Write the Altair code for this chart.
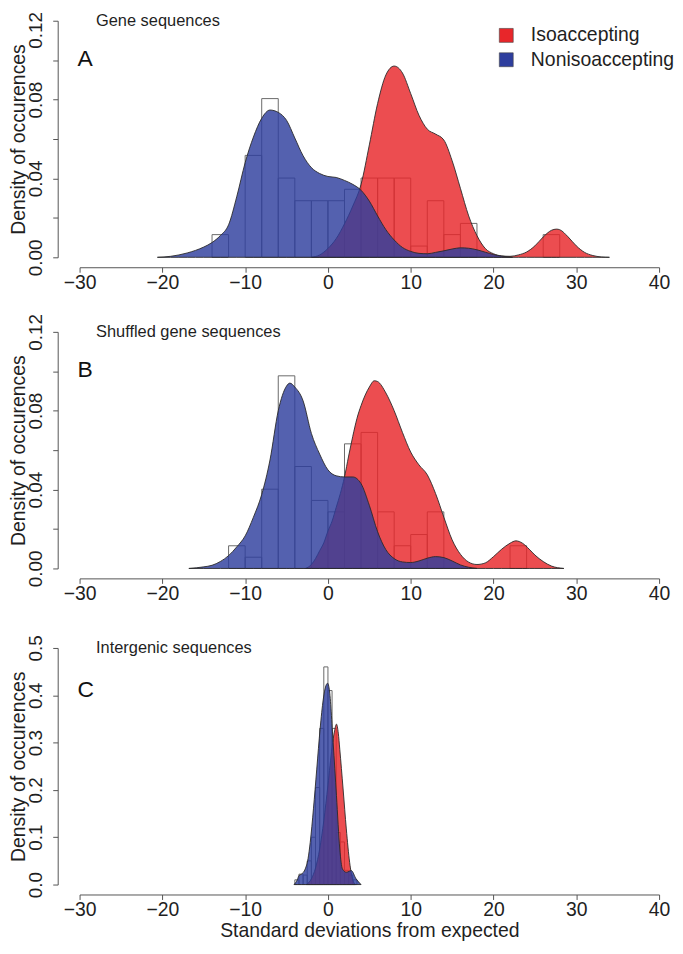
import altair as alt
import pandas as pd

FONT = "Liberation Sans"
GROUPS = ["Isoaccepting", "Nonisoaccepting"]
GROUP_COLORS = ["#E8262A", "#2E3E9E"]

X_TICKS = [-30, -20, -10, 0, 10, 20, 30, 40]
AB_Y_TICKS = [0.0, 0.02, 0.04, 0.06, 0.08, 0.10, 0.12]
C_Y_TICKS = [0.0, 0.1, 0.2, 0.3, 0.4, 0.5]

# ---------------- Panel A : gene sequences ----------------
a_iso_x = [-2, -1, 0, 1, 2, 3, 4, 5, 6, 7, 8, 9, 10, 11, 12, 13, 14, 15, 16, 17, 18, 19,
           20, 21, 22, 23, 24, 25, 26, 27, 27.6, 28, 29, 30, 31, 32, 33, 34]
a_iso_y = [0, 0.0012, 0.0045, 0.0095, 0.017, 0.026, 0.037, 0.057, 0.078, 0.0925, 0.097,
           0.0935, 0.083, 0.072, 0.065, 0.0625, 0.0595, 0.049, 0.035, 0.021, 0.011, 0.0045,
           0.0018, 0.0007, 0.0005, 0.0012, 0.0027, 0.0058, 0.0103, 0.0137, 0.0143, 0.014,
           0.0104, 0.0058, 0.0025, 0.0009, 0.0002, 0]
a_non_x = [-20.6, -19, -18, -17, -16, -15, -14, -13, -12, -11, -10, -9, -8, -7, -6, -5, -4,
           -3, -2, -1, 0, 1, 2, 3, 4, 5, 6, 7, 8, 9, 10, 11, 12, 13, 14, 15, 16, 17, 18, 19,
           20, 21, 22.3]
a_non_y = [0, 0.0005, 0.0012, 0.0022, 0.0035, 0.0052, 0.0075, 0.011, 0.0165, 0.031, 0.048,
           0.061, 0.0705, 0.0747, 0.0735, 0.0695, 0.0605, 0.0515, 0.0455, 0.0425, 0.041,
           0.0405, 0.039, 0.037, 0.034, 0.0285, 0.021, 0.014, 0.0088, 0.005, 0.003, 0.002,
           0.0018, 0.0025, 0.0033, 0.0042, 0.0048, 0.0046, 0.0038, 0.0026, 0.0014, 0.0006, 0]
a_hist_start = [-14, -10, -8, -6, -4, -2, 0, 2, 4, 6, 8, 10, 12, 14, 16, 26]
a_hist_dens = [0.0115, 0.0517, 0.0805, 0.0402, 0.0287, 0.0287, 0.0287, 0.0345, 0.0402,
               0.0402, 0.0402, 0.0057, 0.0287, 0.0115, 0.0172, 0.0115]
a_bin = 2

# ---------------- Panel B : shuffled gene sequences ----------------
b_iso_x = [-2.7, -2, -1.5, -1, -0.5, 0, 0.5, 1, 1.5, 2, 2.5, 3, 3.5, 4, 5, 5.6, 6, 7, 8, 9,
           10, 11, 12, 13, 14, 15, 16, 17, 18, 19, 20, 21, 22, 22.7, 23.5, 24.3, 25, 26, 27,
           28.5]
b_iso_y = [0, 0.002, 0.005, 0.009, 0.013, 0.019, 0.024, 0.031, 0.038, 0.0464, 0.057, 0.067,
           0.076, 0.0826, 0.092, 0.0952, 0.0948, 0.089, 0.08, 0.069, 0.059, 0.0525, 0.0475,
           0.038, 0.026, 0.0145, 0.0072, 0.0032, 0.002, 0.0028, 0.006, 0.0098, 0.0128, 0.014,
           0.0128, 0.0098, 0.0068, 0.0035, 0.0012, 0]
b_non_x = [-16.8, -15, -14, -13, -12, -11, -10, -9, -8, -7, -6, -5, -4.6, -4, -3, -2, -1, 0,
           1, 2, 3, 4, 5, 6, 7, 8, 9, 10, 11, 12, 13, 14, 15, 16, 17, 18]
b_non_y = [0, 0.0008, 0.0016, 0.0035, 0.0065, 0.011, 0.0165, 0.026, 0.0375, 0.055, 0.08,
           0.0925, 0.094, 0.092, 0.085, 0.0685, 0.058, 0.05, 0.047, 0.0464, 0.0464, 0.043,
           0.032, 0.0186, 0.0095, 0.005, 0.0033, 0.003, 0.0038, 0.0052, 0.006, 0.0055,
           0.0038, 0.0018, 0.0006, 0]
b_hist_start = [-12, -10, -8, -6, -4, -2, 0, 2, 4, 6, 8, 10, 12, 22]
b_hist_dens = [0.0115, 0.0057, 0.0402, 0.0977, 0.0517, 0.0345, 0.0287, 0.0632, 0.069,
               0.0287, 0.0115, 0.0172, 0.0287, 0.0115]
b_bin = 2

# ---------------- Panel C : intergenic sequences ----------------
c_iso_x = [-2.6, -2, -1.5, -1, -0.5, 0, 0.5, 0.8, 1.03, 1.25, 1.43, 1.83, 2.22, 2.62, 3.0, 3.3]
c_iso_y = [0, 0.012, 0.035, 0.075, 0.135, 0.21, 0.29, 0.325, 0.339, 0.32, 0.286, 0.202,
           0.1175, 0.047, 0.01, 0]
c_non_x = [-4.1, -3.7, -3.5, -3.2, -2.74, -2.4, -2.14, -1.75, -1.35, -0.95, -0.56, -0.25,
           -0.04, 0.16, 0.63, 1.03, 1.43, 1.75, 2.22, 2.82, 3.4, 4.0]
c_non_y = [0, 0.01, 0.019, 0.022, 0.033, 0.055, 0.089, 0.16, 0.244, 0.328, 0.392, 0.42,
           0.4255, 0.413, 0.3, 0.188, 0.075, 0.033, 0.026, 0.0295, 0.012, 0]
c_hist_start = [-4.0, -3.5, -3.0, -2.5, -2.0, -1.5, -1.0, -0.5, 0.0, 0.5, 1.0, 1.5, 2.0,
                2.5, 3.0]
c_hist_dens = [0.01, 0.022, 0.02, 0.05, 0.10, 0.205, 0.33, 0.46, 0.41, 0.33, 0.11, 0.09,
               0.03, 0.02, 0.01]
c_bin = 0.5

LABEL_COLOR = "#1f1f1f"
AXIS_STYLE = dict(
    domainColor="#555555", tickColor="#555555", domainWidth=1, tickWidth=1, tickSize=5,
    labelColor=LABEL_COLOR, labelFont=FONT, grid=False, labelFlush=False, labelOverlap=False,
    titleFont=FONT, titleColor=LABEL_COLOR, titleFontWeight="normal",
)
PLOT_W = 583
PLOT_H = 238
Y_OFFSET = 22
Y_LABEL_PAD = 11
Y_LABEL_SIZE = 19


def panel(title, letter, letter_y, iso_x, iso_y, non_x, non_y, h_start, h_dens, bin_w,
          y_ticks, label_expr, x_title, show_legend, top_label):
    xs = alt.Scale(domain=[X_TICKS[0], X_TICKS[-1]], nice=False, zero=False)
    ys = alt.Scale(domain=[y_ticks[0], y_ticks[-1]], nice=False)

    xaxis = alt.Axis(values=X_TICKS, offset=10, labelFontSize=19.5, labelPadding=1.5,
                     title=x_title, titleFontSize=19.5, titlePadding=2, **AXIS_STYLE)
    yaxis = alt.Axis(values=y_ticks, labelExpr=label_expr, offset=Y_OFFSET,
                     labelFontSize=Y_LABEL_SIZE, labelAngle=270, labelAlign="center",
                     labelBaseline="alphabetic", labelPadding=Y_LABEL_PAD,
                     title="Density of occurences", titleFontSize=19.5,
                     titleAngle=270, titleAlign="center", titleBaseline="alphabetic",
                     titleX=-33.8, titleY=PLOT_H / 2, **AXIS_STYLE)

    hist_df = pd.DataFrame({"start": h_start, "dens": h_dens})
    hist_df["end"] = hist_df["start"] + bin_w
    hist_df["base"] = 0.0

    iso_df = pd.DataFrame({"x": iso_x, "y": iso_y, "group": GROUPS[0]})
    non_df = pd.DataFrame({"x": non_x, "y": non_y, "group": GROUPS[1]})

    cscale = alt.Scale(domain=GROUPS, range=GROUP_COLORS)
    if show_legend:
        leg = alt.Legend(orient="none", legendX=419.5, legendY=5, title=None,
                         symbolType="square", symbolSize=196, symbolOpacity=1,
                         symbolStrokeColor="#444444", symbolStrokeWidth=0.6,
                         labelFont=FONT, labelFontSize=19.5, labelColor=LABEL_COLOR,
                         labelOffset=15, rowPadding=3.5, padding=0)
    else:
        leg = None

    hist = alt.Chart(hist_df).mark_rect(fill="white", fillOpacity=0, stroke="#6a6a6a",
                                        strokeWidth=1).encode(
        x=alt.X("start:Q", scale=xs, axis=xaxis),
        x2="end:Q",
        y=alt.Y("dens:Q", scale=ys, axis=yaxis),
        y2="base:Q",
    )

    def area(df):
        return alt.Chart(df).mark_area(interpolate="monotone", fillOpacity=0.82,
                                       stroke="#2a2a2a", strokeWidth=0.9).encode(
            x=alt.X("x:Q", scale=xs, axis=xaxis),
            y=alt.Y("y:Q", scale=ys, axis=yaxis),
            color=alt.Color("group:N", scale=cscale, legend=leg),
        )

    t_df = pd.DataFrame({"t": [title]})
    l_df = pd.DataFrame({"t": [letter]})
    ttl = alt.Chart(t_df).mark_text(align="left", baseline="alphabetic", font=FONT,
                                    fontSize=16.5, color=LABEL_COLOR).encode(
        x=alt.value(16.5), y=alt.value(5), text="t:N")
    let = alt.Chart(l_df).mark_text(align="left", baseline="alphabetic", font=FONT,
                                    fontSize=23, color="#111111").encode(
        x=alt.value(-2), y=alt.value(letter_y), text="t:N")
    layers = [hist, area(iso_df), area(non_df), ttl, let]

    if top_label:
        # the topmost tick label, nudged down so that it stays on the page
        tl_df = pd.DataFrame({"t": [top_label]})
        layers.append(alt.Chart(tl_df).mark_text(
            angle=270, align="center", baseline="alphabetic", font=FONT,
            fontSize=Y_LABEL_SIZE, color=LABEL_COLOR).encode(
            x=alt.value(-(Y_OFFSET + 5 + Y_LABEL_PAD)), y=alt.value(9.8), text="t:N"))

    return alt.layer(*layers).properties(width=PLOT_W, height=PLOT_H)


AB_EXPR = "(round(datum.value * 100) % 4 == 0) ? format(datum.value, '.2f') : ''"
A_EXPR = ("(round(datum.value * 100) % 4 == 0 && datum.value < 0.119) ? "
          "format(datum.value, '.2f') : ''")
C_EXPR = "format(datum.value, '.1f')"

pA = panel("Gene sequences", "A", 45.6, a_iso_x, a_iso_y, a_non_x, a_non_y,
           a_hist_start, a_hist_dens, a_bin, AB_Y_TICKS, A_EXPR, None, True, "0.12")
pB = panel("Shuffled gene sequences", "B", 45, b_iso_x, b_iso_y, b_non_x, b_non_y,
           b_hist_start, b_hist_dens, b_bin, AB_Y_TICKS, AB_EXPR, None, False, "")
pC = panel("Intergenic sequences", "C", 49.7, c_iso_x, c_iso_y, c_non_x, c_non_y,
           c_hist_start, c_hist_dens, c_bin, C_Y_TICKS, C_EXPR,
           "Standard deviations from expected", False, "")

inner = alt.vconcat(pB, pC, spacing=31).resolve_scale(
    x="independent", y="independent", color="independent")
chart = alt.vconcat(pA, inner, spacing=21).resolve_scale(
    x="independent", y="independent", color="independent"
).properties(
    padding={"left": 0, "top": 1, "right": 0, "bottom": 0}
).configure(font=FONT).configure_view(strokeWidth=0)

chart.save("out.html", embed_options={"renderer": "svg", "actions": False})
